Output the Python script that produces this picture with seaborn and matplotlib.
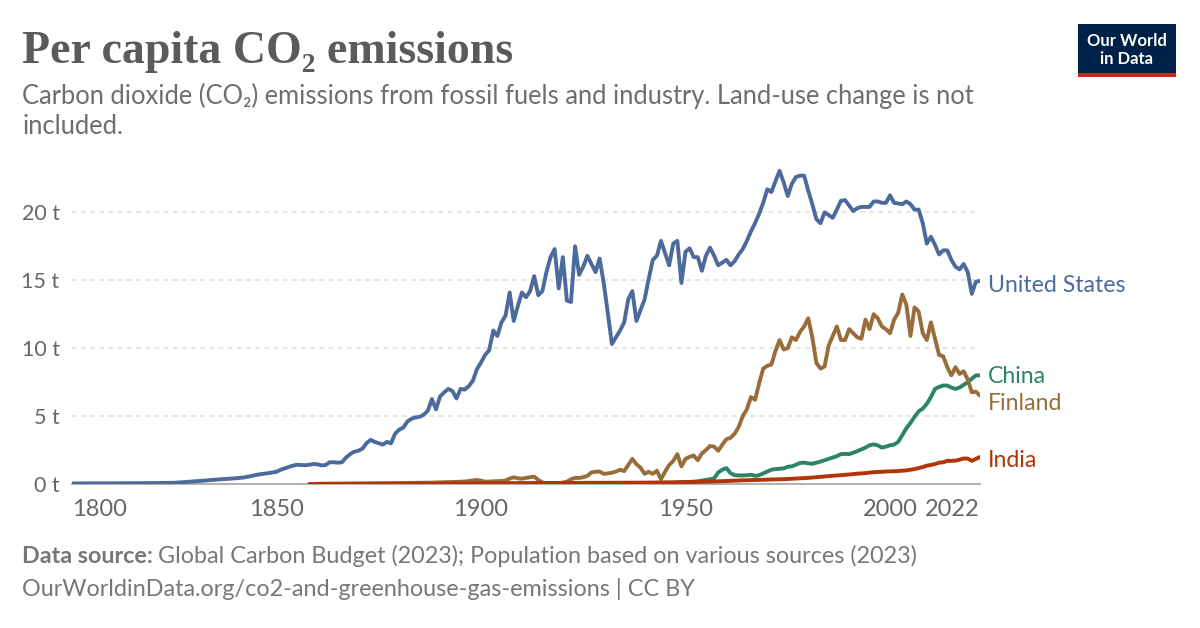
import matplotlib
matplotlib.use("Agg")
import matplotlib.pyplot as plt
from matplotlib.patches import Rectangle
import numpy as np
import pandas as pd
import seaborn as sns

# ---------------------------------------------------------------------------
# Data (t CO2 per person)
# ---------------------------------------------------------------------------
us_years = [1800, 1805, 1810, 1815, 1820, 1825, 1828, 1830, 1832, 1835, 1838,
            1840, 1842, 1844, 1846, 1848] + list(range(1850, 2023))
us_values = [0.04, 0.05, 0.05, 0.06, 0.07, 0.09, 0.15, 0.2, 0.24, 0.32, 0.38,
             0.42, 0.48, 0.6, 0.72, 0.8,
             0.9, 1.05, 1.15, 1.25, 1.35, 1.42, 1.4, 1.38, 1.42, 1.47,
             1.45, 1.37, 1.4, 1.6, 1.6, 1.57, 1.6, 1.95, 2.2, 2.38,
             2.45, 2.6, 3.0, 3.25, 3.1, 3.0, 2.9, 3.1, 3.0, 3.7,
             4.0, 4.15, 4.6, 4.8, 4.9, 4.95, 5.1, 5.4, 6.25, 5.5,
             6.45, 6.75, 7.0, 6.85, 6.3, 7.0, 6.95, 7.2, 7.6, 8.45,
             8.95, 9.5, 9.85, 11.3, 10.9, 11.9, 12.4, 14.1, 12.0, 13.1,
             14.1, 13.75, 14.2, 15.3, 13.9, 14.2, 15.6, 16.7, 17.3, 14.4,
             16.7, 13.5, 13.4, 17.5, 15.4, 16.0, 16.8, 16.2, 15.6, 16.6,
             14.8, 12.6, 10.3, 10.8, 11.3, 11.9, 13.6, 14.2, 12.0, 12.8,
             13.6, 15.1, 16.5, 16.8, 17.9, 17.0, 16.1, 17.7, 17.9, 14.8,
             17.1, 17.35, 16.7, 16.7, 15.7, 16.8, 17.4, 16.8, 16.1, 16.3,
             16.5, 16.1, 16.4, 16.9, 17.3, 17.9, 18.6, 19.2, 19.9, 20.7,
             21.7, 21.5, 22.3, 23.05, 22.2, 21.2, 22.1, 22.6, 22.7, 22.7,
             21.6, 20.6, 19.5, 19.2, 20.0, 19.8, 19.6, 20.2, 20.85, 20.9,
             20.5, 20.1, 20.3, 20.4, 20.4, 20.4, 20.8, 20.8, 20.7, 20.7,
             21.25, 20.7, 20.65, 20.6, 20.8, 20.6, 20.2, 20.2, 19.2, 17.7,
             18.2, 17.6, 16.9, 17.2, 17.2, 16.5, 16.0, 15.8, 16.2, 15.6,
             14.0, 14.9, 14.95]

fin_years = [1860, 1870, 1880, 1885, 1888, 1890, 1893, 1896, 1899] + list(range(1900, 2023))
fin_values = [0.02, 0.04, 0.07, 0.09, 0.1, 0.12, 0.15, 0.18, 0.3,
              0.25, 0.17, 0.18, 0.2, 0.21, 0.22, 0.25, 0.4, 0.49, 0.42,
              0.39, 0.45, 0.5, 0.54, 0.3, 0.12, 0.02, 0.0, 0.0, 0.05,
              0.1, 0.17, 0.35, 0.45, 0.45, 0.5, 0.6, 0.85, 0.9, 0.92,
              0.75, 0.78, 0.83, 0.92, 1.05, 0.95, 1.4, 1.85, 1.45, 1.2,
              0.75, 0.9, 0.75, 0.98, 0.35, 0.9, 1.4, 1.7, 2.2, 1.3,
              1.85, 2.0, 2.1, 1.75, 2.25, 2.5, 2.8, 2.75, 2.45, 2.9,
              3.3, 3.4, 3.7, 4.2, 5.0, 5.5, 6.4, 6.2, 7.4, 8.5,
              8.7, 8.8, 9.8, 10.6, 9.9, 10.0, 10.8, 10.6, 11.2, 11.6,
              12.2, 10.8, 8.9, 8.5, 8.65, 10.2, 10.9, 11.6, 10.6, 10.6,
              11.4, 11.1, 10.8, 10.7, 12.1, 11.4, 12.5, 12.2, 11.6, 11.4,
              11.1, 12.1, 12.6, 13.95, 13.2, 10.9, 13.0, 12.7, 11.1, 10.6,
              11.9, 10.7, 9.5, 9.4, 8.6, 8.0, 8.6, 8.1, 8.3, 7.7,
              6.75, 6.8, 6.5]

chn_years = [1899, 1910, 1920, 1930, 1940, 1945] + list(range(1950, 2023))
chn_values = [0.0, 0.01, 0.02, 0.03, 0.05, 0.04,
              0.14, 0.15, 0.17, 0.2, 0.25, 0.3, 0.35, 0.42, 0.85, 1.05,
              1.17, 0.8, 0.65, 0.63, 0.63, 0.65, 0.68, 0.6, 0.65, 0.78,
              0.92, 1.05, 1.1, 1.12, 1.15, 1.27, 1.3, 1.42, 1.55, 1.57,
              1.52, 1.49, 1.57, 1.65, 1.75, 1.85, 1.95, 2.05, 2.2, 2.22,
              2.2, 2.3, 2.42, 2.55, 2.68, 2.85, 2.92, 2.85, 2.68, 2.75,
              2.85, 2.9, 3.1, 3.6, 4.1, 4.5, 4.95, 5.35, 5.55, 5.9,
              6.4, 7.0, 7.15, 7.25, 7.25, 7.1, 7.0, 7.1, 7.3, 7.5,
              7.75, 8.0, 7.99]

ind_years = [1858, 1870, 1880, 1890, 1900, 1910, 1920, 1930, 1940, 1950, 1955,
             1960, 1965, 1970, 1975, 1980, 1985, 1988] + list(range(1990, 2023))
ind_values = [0.0, 0.01, 0.02, 0.03, 0.05, 0.07, 0.08, 0.09, 0.1, 0.14, 0.17,
              0.22, 0.28, 0.32, 0.37, 0.45, 0.58, 0.65,
              0.7, 0.73, 0.76, 0.78, 0.8, 0.84, 0.87, 0.89, 0.9, 0.92,
              0.93, 0.94, 0.95, 0.98, 1.0, 1.05, 1.1, 1.17, 1.25, 1.35,
              1.4, 1.47, 1.57, 1.6, 1.7, 1.7, 1.72, 1.79, 1.88, 1.87,
              1.7, 1.85, 1.99]

countries = ["United States", "China", "Finland", "India"]
colors = {"United States": "#4C6A9C", "China": "#2C8465",
          "Finland": "#996D39", "India": "#B13507"}
# y position (t) of the end labels, spread so they don't collide
label_y = {"United States": 14.65, "China": 7.95, "Finland": 5.95, "India": 1.7}

x_ticks = [1800, 1850, 1900, 1950, 2000, 2022]
y_ticks = [0, 5, 10, 15, 20]

df = pd.concat([
    pd.DataFrame({"year": us_years, "value": us_values, "country": "United States"}),
    pd.DataFrame({"year": chn_years, "value": chn_values, "country": "China"}),
    pd.DataFrame({"year": fin_years, "value": fin_values, "country": "Finland"}),
    pd.DataFrame({"year": ind_years, "value": ind_values, "country": "India"}),
], ignore_index=True)

# ---------------------------------------------------------------------------
# Figure
# ---------------------------------------------------------------------------
sns.set_theme(style="white")
plt.rcParams["font.family"] = ["Lato", "DejaVu Sans"]

W, H = 1200, 628
fig = plt.figure(figsize=(W / 100, H / 100), dpi=100)
fig.patch.set_facecolor("white")

ax_left, ax_right, ax_bottom, ax_top = 72, 980, 484, 158
ax = fig.add_axes([ax_left / W, 1 - ax_bottom / H,
                   (ax_right - ax_left) / W, (ax_bottom - ax_top) / H])

for yv in y_ticks[1:]:
    ax.axhline(yv, color="#dddddd", lw=1.1, ls=(0, (3, 3)), zorder=0)

sns.lineplot(data=df, x="year", y="value", hue="country", hue_order=countries,
             palette=colors, linewidth=2.8, legend=False, ax=ax, zorder=3)

ax.set_xlim(1800, 2022)
ax.set_ylim(0, 24)
ax.set_xlabel("")
ax.set_ylabel("")

for side in ["top", "right", "left"]:
    ax.spines[side].set_visible(False)
ax.spines["bottom"].set_color("#a3a3a3")
ax.spines["bottom"].set_linewidth(1.2)
ax.spines["bottom"].set_zorder(1)

ax.set_yticks(y_ticks)
ax.set_yticklabels([f"{v} t" for v in y_ticks])
ax.tick_params(axis="y", length=0, pad=9, labelsize=15.5, labelcolor="#666666")

ax.set_xticks(x_ticks)
ax.set_xticklabels([str(v) for v in x_ticks])
ax.tick_params(axis="x", length=6, width=1.2, color="#a3a3a3", pad=5,
               labelsize=17, labelcolor="#666666")
xt = ax.get_xticklabels()
xt[0].set_ha("left")
xt[-1].set_ha("right")

for c in countries:
    ax.annotate(c, xy=(2022, label_y[c]), xytext=(8, 0), textcoords="offset pixels",
                va="center", ha="left", fontsize=16.7, color=colors[c],
                annotation_clip=False)

# ---------------------------------------------------------------------------
# Header, footer, logo
# ---------------------------------------------------------------------------
fig.text(22 / W, 1 - 63 / H, "Per capita CO₂ emissions",
         family=["Liberation Serif", "DejaVu Serif"], fontweight="bold",
         fontsize=33, color="#5b5b5b", va="baseline", ha="left")
fig.text(22 / W, 1 - 104 / H,
         "Carbon dioxide (CO₂) emissions from fossil fuels and industry. Land-use change is not",
         fontsize=18.4, color="#6e6e6e", va="baseline", ha="left")
fig.text(22 / W, 1 - 134 / H, "included.",
         fontsize=18.4, color="#6e6e6e", va="baseline", ha="left")

src = fig.text(22 / W, 1 - 563 / H, "Data source:", fontsize=16.8, fontweight="bold",
               color="#777777", va="baseline", ha="left")
fig.canvas.draw()
bb = src.get_window_extent()
fig.text((bb.x1 + 5) / W, 1 - 563 / H,
         "Global Carbon Budget (2023); Population based on various sources (2023)",
         fontsize=16.8, color="#777777", va="baseline", ha="left")
fig.text(22 / W, 1 - 596 / H,
         "OurWorldinData.org/co2-and-greenhouse-gas-emissions | CC BY",
         fontsize=16.8, color="#777777", va="baseline", ha="left")

fig.patches.append(Rectangle((1078 / W, 1 - 73 / H), 98 / W, 49 / H,
                             transform=fig.transFigure, facecolor="#002147",
                             edgecolor="none"))
fig.patches.append(Rectangle((1078 / W, 1 - 77 / H), 98 / W, 4 / H,
                             transform=fig.transFigure, facecolor="#ce261e",
                             edgecolor="none"))
fig.text(1127 / W, 1 - 41 / H, "Our World", fontsize=12, fontweight="bold",
         color="white", ha="center", va="center")
fig.text(1127 / W, 1 - 59 / H, "in Data", fontsize=12, fontweight="bold",
         color="white", ha="center", va="center")

fig.savefig("out.png", dpi=100, facecolor="white")
